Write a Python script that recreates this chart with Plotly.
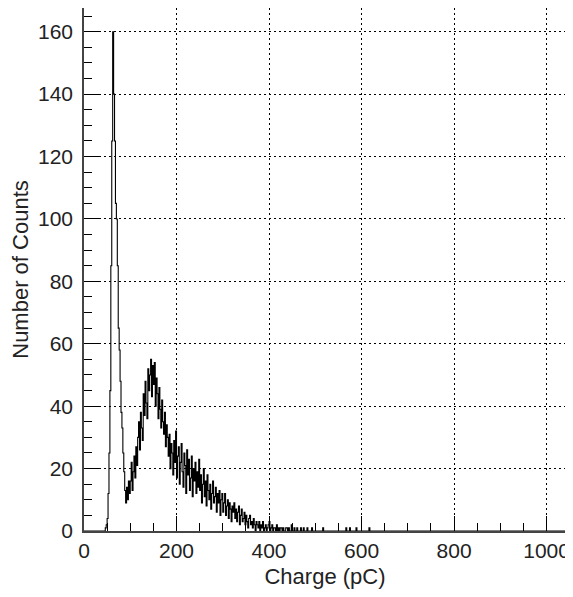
import numpy as np
import plotly.graph_objects as go

# Histogram: 2 pC bins starting at 40 pC
bin_start = 40
bin_width = 2
counts = [
    # 40 - 98
    0, 0, 0, 1, 2, 4, 12, 25, 45, 85, 125, 160, 140, 125, 105, 100, 85, 65, 58, 48,
    38, 33, 25, 19, 13, 9, 14, 10, 16, 12,
    # 100 - 148
    16, 22, 13, 19, 24, 17, 27, 21, 30, 35, 26, 38, 33, 29, 44, 37, 48, 41, 36, 52,
    45, 50, 55, 43, 53,
    # 150 - 198
    47, 54, 40, 49, 44, 36, 46, 39, 33, 42, 35, 31, 38, 27, 34, 30, 24, 31, 20, 28,
    25, 18, 29, 22, 32,
    # 200 - 248
    17, 24, 27, 15, 22, 28, 19, 14, 25, 21, 12, 26, 18, 23, 13, 17, 24, 11, 20, 16,
    22, 12, 19, 14, 23,
    # 250 - 298
    13, 18, 9, 15, 20, 11, 16, 8, 18, 13, 10, 15, 7, 12, 16, 9, 11, 14, 6, 12,
    9, 13, 5, 10, 12,
    # 300 - 348
    6, 9, 12, 5, 8, 10, 4, 9, 7, 3, 8, 6, 9, 4, 7, 3, 6, 8, 2, 5,
    7, 3, 4, 6, 2,
    # 350 - 398
    5, 3, 1, 4, 5, 2, 3, 1, 4, 2, 0, 3, 2, 1, 3, 0, 2, 1, 3, 0,
    1, 2, 0, 1, 2,
    # 400 - 448
    3, 0, 1, 2, 0, 1, 1, 0, 2, 0, 1, 0, 1, 1, 0, 1, 0, 0, 1, 1,
    0, 1, 0, 0, 2,
    # 450 - 498
    0, 0, 1, 0, 0, 1, 0, 0, 0, 1, 0, 0, 1, 0, 0, 0, 1, 0, 0, 0,
    0, 1, 0, 0, 0,
]
# isolated events in the tail
tail_charge = [516, 566, 574, 588, 616]
tail_counts = [1, 1, 1, 1, 1]

x_ticks = [0, 200, 400, 600, 800, 1000]
y_ticks = [0, 20, 40, 60, 80, 100, 120, 140, 160]

# Build full binned table from 0 to 1040 pC
edges = np.arange(0, 1042, bin_width)
full = np.zeros(len(edges), dtype=float)
i0 = bin_start // bin_width
full[i0:i0 + len(counts)] = counts
for c, n in zip(tail_charge, tail_counts):
    full[c // bin_width] += n
xs = np.append(edges, edges[-1] + bin_width)
ys = np.append(full, full[-1])

font = "Liberation Sans, Arial, sans-serif"

fig = go.Figure()
fig.add_trace(go.Scatter(
    x=xs, y=ys, mode="lines", line=dict(color="black", width=1.1, shape="hv"),
    showlegend=False, hoverinfo="skip"))

axis_common = dict(
    showline=True, linecolor="#444444", linewidth=1.5, mirror=True,
    ticks="inside", ticklen=15, tickwidth=1, tickcolor="black",
    showgrid=True, gridcolor="black", gridwidth=1, griddash="2px,3px",
    zeroline=False, automargin=False,
    tickfont=dict(family=font, size=21, color="#222222"),
    title_font=dict(family=font, size=22, color="#222222"),
)

fig.update_xaxes(
    range=[0, 1042], tickvals=x_ticks, ticktext=[str(v) for v in x_ticks],
    minor=dict(ticks="inside", ticklen=8, dtick=50, tick0=0, tickcolor="black", showgrid=False),
    title_text="Charge (pC)", title_standoff=15,
    **axis_common)
fig.update_yaxes(
    range=[0, 167.6], tickvals=y_ticks, ticktext=[str(v) for v in y_ticks],
    minor=dict(ticks="inside", ticklen=8, dtick=5, tick0=0, tickcolor="black", showgrid=False),
    title_text="Number of Counts", title_standoff=9, ticklabelstandoff=5,
    **axis_common)

# page body has an 8px default margin; size the figure so the page fits the window
fig.update_layout(
    width=565, height=581,
    margin=dict(l=76, r=7, t=0, b=58),
    plot_bgcolor="white", paper_bgcolor="white",
)

fig.write_html("out.html")
